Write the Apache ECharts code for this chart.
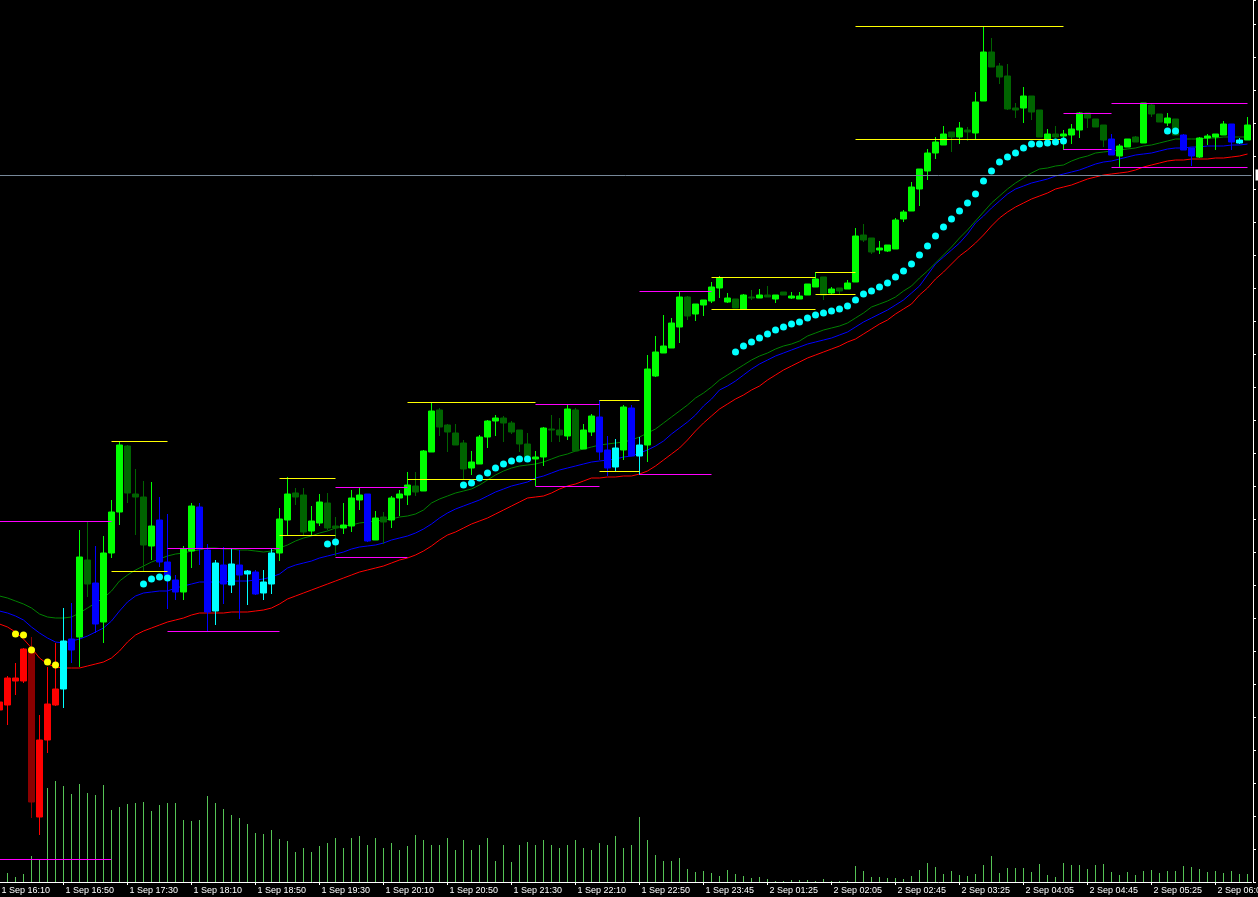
<!DOCTYPE html>
<html><head><meta charset="utf-8">
<script src="https://cdn.jsdelivr.net/npm/echarts@6/dist/echarts.min.js"></script>
<style>html,body{margin:0;padding:0;background:#000;overflow:hidden}#c{width:1258px;height:897px}</style>
</head><body><div id="c"></div>
<script>
// ---- categories (5-minute bars) ----
const categories = [
'1 Sep 16:10','1 Sep 16:15','1 Sep 16:20','1 Sep 16:25','1 Sep 16:30','1 Sep 16:35','1 Sep 16:40','1 Sep 16:45',
'1 Sep 16:50','1 Sep 16:55','1 Sep 17:00','1 Sep 17:05','1 Sep 17:10','1 Sep 17:15','1 Sep 17:20','1 Sep 17:25',
'1 Sep 17:30','1 Sep 17:35','1 Sep 17:40','1 Sep 17:45','1 Sep 17:50','1 Sep 17:55','1 Sep 18:00','1 Sep 18:05',
'1 Sep 18:10','1 Sep 18:15','1 Sep 18:20','1 Sep 18:25','1 Sep 18:30','1 Sep 18:35','1 Sep 18:40','1 Sep 18:45',
'1 Sep 18:50','1 Sep 18:55','1 Sep 19:00','1 Sep 19:05','1 Sep 19:10','1 Sep 19:15','1 Sep 19:20','1 Sep 19:25',
'1 Sep 19:30','1 Sep 19:35','1 Sep 19:40','1 Sep 19:45','1 Sep 19:50','1 Sep 19:55','1 Sep 20:00','1 Sep 20:05',
'1 Sep 20:10','1 Sep 20:15','1 Sep 20:20','1 Sep 20:25','1 Sep 20:30','1 Sep 20:35','1 Sep 20:40','1 Sep 20:45',
'1 Sep 20:50','1 Sep 20:55','1 Sep 21:00','1 Sep 21:05','1 Sep 21:10','1 Sep 21:15','1 Sep 21:20','1 Sep 21:25',
'1 Sep 21:30','1 Sep 21:35','1 Sep 21:40','1 Sep 21:45','1 Sep 21:50','1 Sep 21:55','1 Sep 22:00','1 Sep 22:05',
'1 Sep 22:10','1 Sep 22:15','1 Sep 22:20','1 Sep 22:25','1 Sep 22:30','1 Sep 22:35','1 Sep 22:40','1 Sep 22:45',
'1 Sep 22:50','1 Sep 22:55','1 Sep 23:00','1 Sep 23:05','1 Sep 23:10','1 Sep 23:15','1 Sep 23:25','1 Sep 23:35',
'1 Sep 23:45','1 Sep 23:50','1 Sep 23:55','2 Sep 00:05','2 Sep 00:20','2 Sep 00:35','2 Sep 00:50','2 Sep 01:05',
'2 Sep 01:25','2 Sep 01:30','2 Sep 01:35','2 Sep 01:40','2 Sep 01:45','2 Sep 01:50','2 Sep 01:55','2 Sep 02:00',
'2 Sep 02:05','2 Sep 02:10','2 Sep 02:15','2 Sep 02:20','2 Sep 02:25','2 Sep 02:30','2 Sep 02:35','2 Sep 02:40',
'2 Sep 02:45','2 Sep 02:50','2 Sep 02:55','2 Sep 03:00','2 Sep 03:05','2 Sep 03:10','2 Sep 03:15','2 Sep 03:20',
'2 Sep 03:25','2 Sep 03:30','2 Sep 03:35','2 Sep 03:40','2 Sep 03:45','2 Sep 03:50','2 Sep 03:55','2 Sep 04:00',
'2 Sep 04:05','2 Sep 04:10','2 Sep 04:15','2 Sep 04:20','2 Sep 04:25','2 Sep 04:30','2 Sep 04:35','2 Sep 04:40',
'2 Sep 04:45','2 Sep 04:50','2 Sep 04:55','2 Sep 05:00','2 Sep 05:05','2 Sep 05:10','2 Sep 05:15','2 Sep 05:20',
'2 Sep 05:25','2 Sep 05:30','2 Sep 05:35','2 Sep 05:40','2 Sep 05:45','2 Sep 05:50','2 Sep 05:55','2 Sep 06:00',
'2 Sep 06:05','2 Sep 06:10','2 Sep 06:15','2 Sep 06:20','2 Sep 06:25'];

// ---- prices (points) ----
const open = [
172,177,201,201,233,65,142,177,193,243, 245,322,299,260,329,370,436,388,385,336,
362,320,302,290,331,375,332,271,317,297, 317,308,310,289,298,329,362,389,387,351,
359,379,356,354,356,382,388,342,365,362, 384,387,396,391,430,472,457,449,439,414,
418,445,461,464,459,452,438,423,425,453, 452,446,472,433,450,465,432,415,432,474,
426,437,506,529,534,555,585,568,577,581, 594,580,583,573,585,584,587,583,590,584,
583,587,595,605,589,594,593,600,647,644, 632,631,633,663,671,693,711,729,737,750,
745,752,749,781,830,816,806,774,774,786, 772,743,748,746,747,752,769,763,757,743,
726,735,745,739,777,768,759,763,747,734, 725,744,745,747,758,739,742];
const close = [
180,204,204,233,80,142,178,193,241,232, 325,298,258,329,370,437,389,385,337,356,
320,305,290,333,376,333,270,319,298,318, 307,311,288,300,329,363,388,385,350,361,
380,354,354,357,384,387,341,364,360,384, 388,397,390,431,471,455,450,437,413,420,
445,461,464,459,450,438,425,425,454,452, 447,473,431,452,466,430,414,434,475,426,
437,513,530,536,559,585,566,578,582,595, 604,584,574,587,584,587,585,587,587,586,
586,598,603,587,593,591,599,646,642,630, 634,637,662,670,695,713,729,740,748,745,
754,750,780,830,815,805,773,772,786,770, 745,748,745,748,753,769,764,755,742,727,
736,743,740,779,768,760,764,747,732,726, 744,746,748,758,740,742,757];
const high = [
184,206,219,234,245,167,215,239,274,279, 352,361,336,346,382,441,437,413,401,400,
385,368,307,336,379,379,338,322,335,334, 332,312,312,312,333,374,405,394,394,376,
388,389,365,379,392,395,388,371,370,386, 392,410,410,432,480,474,458,458,442,431,
447,462,467,466,461,452,449,431,455,467, 464,478,474,458,468,482,446,443,477,477,
445,527,546,567,564,591,586,578,582,600, 606,589,583,588,592,593,596,587,590,590,
590,598,610,605,595,594,602,654,658,644, 641,637,664,672,700,713,733,745,756,750,
760,755,790,856,844,819,818,779,795,786, 772,753,756,752,758,770,769,763,757,748,
738,743,746,779,779,768,769,763,748,734, 745,748,748,761,758,744,765];
const low = [
168,157,187,199,64,47,129,176,174,219, 215,285,249,239,324,357,379,347,311,322,
315,273,282,282,314,317,250,257,278,289, 263,277,287,282,288,321,347,377,347,347,
356,352,326,348,350,372,340,342,338,354, 366,377,386,391,430,446,430,437,402,407,
418,434,446,440,448,430,422,396,416,440, 440,442,431,433,446,422,406,410,422,426,
407,420,505,529,534,539,562,561,566,579, 584,579,574,573,582,584,585,579,587,583,
583,587,595,582,587,587,593,600,640,628, 628,630,633,660,671,676,702,723,737,730,
738,741,742,781,815,798,772,764,759,762, 745,743,742,732,738,744,754,755,735,727,
715,735,740,739,765,760,756,747,732,716, 724,737,732,747,732,738,742];
// trend state of each bar: u = up, n = neutral, d = down
const trend = ('dddddddd'+'nn'+'uu'+'n'+'uuuuuuu'+'nnn'+'uu'+'nnnnnnnnnn'+'uuuuuuuuuuu'+'n'+
  'uuuuuuuuuuuuuuuuuuuuuuuuuuuu'+'nnn'+'u'+'nn'+
  'uuuuuuuuuuuuuuuuuuuuuuuuuuuuuuuuuuuuuuuuuuuuuuuuuuuuuuuuuu'+'n'+'uuuuuuuu'+'nn'+'uuuu'+'nn'+'u').split('');

const volume = [
9,9,5,8,26,23,94,101,96,88, 98,89,87,97,72,75,78,79,80,71,
77,79,79,62,61,62,86,79,73,67, 64,58,49,48,52,43,41,30,34,30,
36,39,44,34,44,46,37,44,34,39, 32,36,47,42,37,37,44,32,42,32,
37,44,21,37,20,37,40,37,42,37, 34,37,42,34,32,39,37,46,34,37,
65,42,27,21,21,24,13,10,11,9, 6,12,8,6,4,5,3,1,1,2,
2,2,1,3,1,1,1,16,11,5, 5,4,4,3,6,12,19,15,8,11,
7,6,8,17,26,9,14,14,14,10, 18,7,5,19,17,17,13,17,18,10,
7,10,7,11,12,9,11,11,16,15, 13,10,11,9,11,8,8];

const maGreen = [
286,284,281,278,274,268,265,264,264,265, 269,274,279,284,291,301,307,312,316,320,
323,326,328,329,331,332,334,334,333,333, 332,332,331,330,331,334,337,341,344,346,
349,351,354,356,357,359,360,361,362,363, 365,366,368,372,379,383,386,389,391,393,
397,402,407,411,414,416,417,418,420,423, 426,428,431,433,435,437,438,439,440,442,
445,449,453,459,465,471,477,484,489,495, 502,507,512,517,522,526,529,533,536,538,
541,546,549,552,554,556,559,564,569,575, 578,581,585,591,596,604,611,619,627,635,
644,652,661,670,679,686,693,699,704,709, 713,714,716,717,721,724,726,729,730,731,
732,733,734,736,737,739,741,743,743,743, 743,744,744,745,745,745,745];
const maBlue = [
271,269,266,262,255,249,244,240,239,241, 243,246,250,254,261,271,280,286,289,290,
291,291,294,296,298,300,300,300,300,301, 301,301,302,303,305,308,314,317,319,321,
324,326,328,330,333,335,336,337,339,342, 344,346,349,353,358,364,369,373,376,379,
382,386,390,393,396,398,400,404,406,409, 412,414,416,418,420,421,422,423,425,426,
429,432,436,441,448,454,460,467,476,483, 492,496,501,507,513,518,522,526,529,532,
535,538,540,542,544,547,550,555,560,564, 568,572,577,582,589,596,607,618,625,632,
639,648,659,666,674,681,688,693,696,699, 701,703,706,708,710,712,715,718,720,721,
723,725,727,728,729,731,733,734,734,735, 735,736,736,736,737,737,738];
const maRed = [
258,255,250,243,234,224,218,215,214,214, 214,216,218,220,224,231,240,247,251,254,
257,260,262,264,267,269,269,269,269,270, 270,270,271,272,274,278,283,286,289,292,
295,298,301,304,307,310,312,314,316,319, 322,324,327,331,336,342,347,350,354,358,
361,364,368,372,376,380,384,385,386,389, 393,396,398,401,404,404,405,405,406,406,
408,411,416,422,428,434,442,451,459,466, 473,478,483,487,492,496,502,507,512,516,
520,524,527,530,533,536,540,543,548,553, 558,562,568,573,578,587,594,603,610,618,
626,632,639,647,656,664,670,675,679,683, 686,689,693,695,697,700,703,705,707,708,
709,710,712,715,717,719,721,722,722,723, 723,723,724,724,725,726,728];

// stop-and-reverse dots: [bar index, price]
const sarYellow = [[2,248],[3,247],[4,232],[6,220],[7,217]];
const sarCyan = [[18,298],[19,303],[20,305],[21,304],[41,338],[42,340],
[58,397],[59,399],[60,404],[61,409],[62,414],[63,418],[64,421],[65,423],[66,423],
[92,530],[93,536],[94,540],[95,544],[96,548],[97,552],[98,555],[99,558],[100,560],[101,564],
[102,567],[103,569],[104,571],[105,573],[106,576],[107,582],[108,588],[109,591],[110,595],[111,599],
[112,605],[113,611],[114,618],[115,627],[116,636],[117,646],[118,655],[119,663],[120,671],[121,679],
[122,688],[123,701],[124,711],[125,720],[126,725],[127,729],[128,734],[129,738],[130,738],[131,739],
[132,740],[133,741],[146,751],[147,751]];

// range levels: [from bar, to bar, price, y = yellow / m = magenta]
const upperLevels = [[0,14,361,'m'],[14,21,441,'y'],[21,35,334,'m'],[35,42,404,'y'],[42,51,395,'m'],
[51,67,480,'y'],[67,75,478,'m'],[75,80,482,'y'],[80,89,591,'m'],[89,102,605,'y'],[102,107,610,'y'],
[107,133,856,'y'],[133,139,769,'m'],[139,156,779,'m']];
const lowerLevels = [[0,14,23,'m'],[14,21,311,'y'],[21,35,251,'m'],[35,42,347,'y'],[42,51,325,'m'],
[51,67,403,'y'],[67,75,396,'m'],[75,80,411,'y'],[80,89,408,'m'],[89,102,573,'y'],[102,107,588,'y'],
[107,133,743,'y'],[133,139,733,'m'],[139,156,715,'m']];
const horizontalLine = 707;

// ---- build ----
const N = categories.length;
const bullCol = {u:'#00ff00', n:'#00ffff', d:'#ff0000'};
const bearCol = {u:'#006400', n:'#0000ff', d:'#8b0000'};
const candleData = categories.map((_, i) => {
  const t = trend[i];
  const col = close[i] >= open[i] ? bullCol[t] : bearCol[t];
  return {value:[open[i], close[i], low[i], high[i]],
    itemStyle:{color:col, color0:col, borderColor:col, borderColor0:col, borderColorDoji:col}};
});
const levelCol = {y:'#ffff00', m:'#ff00ff'};
const levelLines = upperLevels.concat(lowerLevels).map(([a,b,v,c]) =>
  [{coord:[categories[a], v], lineStyle:{color:levelCol[c], width:1, type:'solid'}}, {coord:[categories[b], v]}]);

const chart = echarts.init(document.getElementById('c'), null, {renderer:'canvas'});
const bad = [open,close,high,low,volume,maGreen,maBlue,maRed,trend].some(a => a.length !== N);
chart.setOption({
  backgroundColor:'#000',
  animation:false,
  title: bad ? {text:'LENGTH MISMATCH', textStyle:{color:'#f00'}} : undefined,
  grid:{left:-4.5, top:0, width:1256, height:882, outerBoundsMode:'none', containLabel:false},
  xAxis:{type:'category', data:categories, boundaryGap:true,
    axisLine:{lineStyle:{color:'#fff', width:1}},
    axisTick:{show:true, interval:7, alignWithLabel:true, length:3, lineStyle:{color:'#fff'}},
    axisLabel:{interval:7, color:'#fff', fontSize:9, fontFamily:'Liberation Sans, Arial, sans-serif',
      align:'left', margin:4, padding:[0,0,0,2], hideOverlap:false},
    splitLine:{show:false}},
  yAxis:[
    {type:'value', position:'right', offset:1.5, min:0, max:882, interval:33, scale:false,
      axisLine:{show:true, lineStyle:{color:'#fff'}},
      axisTick:{show:true, length:3, lineStyle:{color:'#fff'}},
      axisLabel:{show:false}, splitLine:{show:false}},
    {type:'value', min:0, max:882, show:false, splitLine:{show:false}}
  ],
  series:[
    {name:'Volumes', type:'bar', yAxisIndex:1, data:volume, barWidth:1, z:1,
      itemStyle:{color:'#55c455'}, silent:true},
    {name:'Levels', type:'line', data:[], z:2, silent:true,
      markLine:{symbol:['none','none'], silent:true, label:{show:false}, data:levelLines}},
    {name:'Line', type:'line', data:[], z:2, silent:true,
      markLine:{symbol:['none','none'], silent:true,
        lineStyle:{color:'#778899', width:1, type:'solid'},
        label:{show:true, position:'end', distance:4, color:'#000', backgroundColor:'#fff', fontSize:9, padding:[1,3]},
        data:[{yAxis:horizontalLine}]}},
    {name:'MA green', type:'line', data:maGreen, showSymbol:false, z:3, lineStyle:{color:'#008000', width:1}},
    {name:'MA blue', type:'line', data:maBlue, showSymbol:false, z:3, lineStyle:{color:'#0000ff', width:1}},
    {name:'MA red', type:'line', data:maRed, showSymbol:false, z:3, lineStyle:{color:'#ff0000', width:1}},
    {name:'Price', type:'candlestick', data:candleData, barWidth:6, z:4,
      itemStyle:{borderWidth:1}},
    {name:'SAR up', type:'scatter', data:sarCyan, symbolSize:7, z:5, itemStyle:{color:'#00ffff', opacity:1}},
    {name:'SAR down', type:'scatter', data:sarYellow, symbolSize:7, z:5, itemStyle:{color:'#ffff00', opacity:1}}
  ]
});
</script></body></html>
